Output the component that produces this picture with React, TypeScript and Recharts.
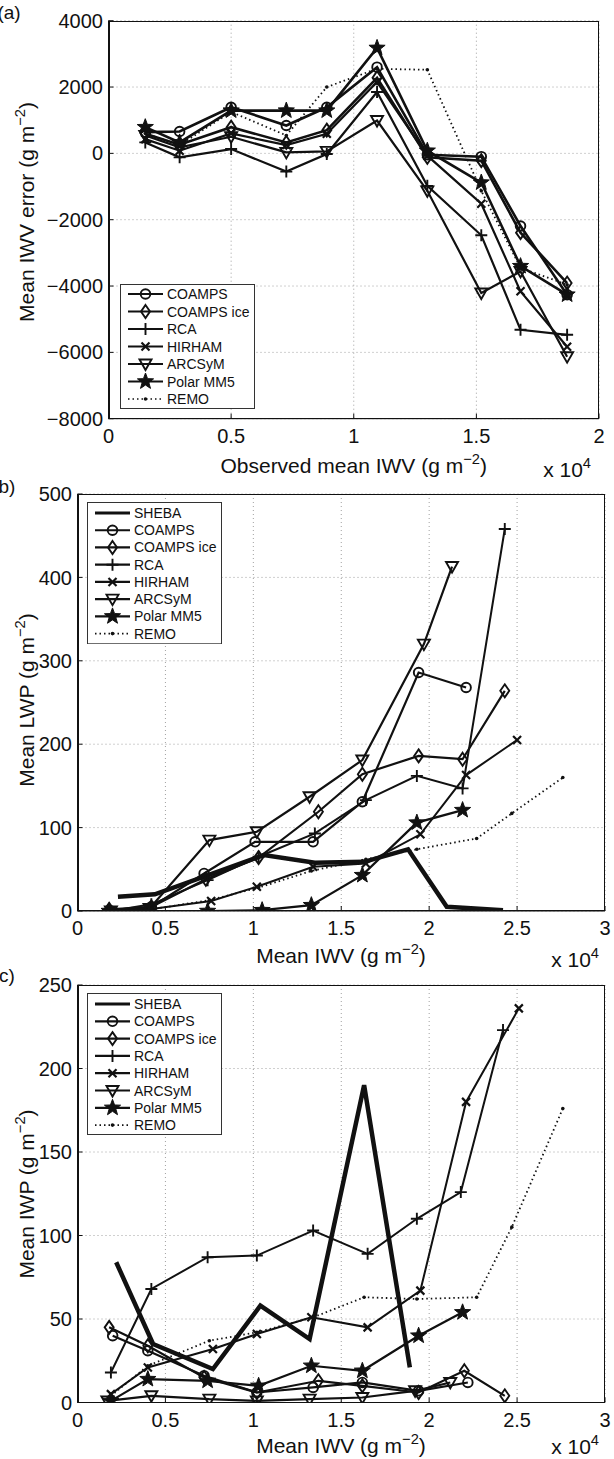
import React from "react";
import { LineChart, Line, XAxis, YAxis, CartesianGrid } from "recharts";

const FONT = '"Liberation Sans", Arial, Helvetica, sans-serif';
const INK = "#111";

// ---- panel (a): IWV error vs observed mean IWV (shared bins) ----
const iwvObsA = [1500, 2900, 5000, 7250, 8900, 10950, 13000, 15200, 16800, 18700];
const coampsA = [640, 660, 1390, 840, 1390, 2600, -40, -100, -2190, -4260];
const coampsIceA = [590, 260, 790, 330, 700, 2280, -120, -220, -2390, -3910];
const rcaA = [330, -120, 130, -550, -20, 1850, -980, -2470, -5320, -5470];
const hirhamA = [430, 80, 600, 250, 590, 2150, -70, -1520, -4160, -5830];
const arcsymA = [540, 180, 500, 30, 60, 990, -1130, -4210, -3560, -6130];
const polarA = [790, 330, 1290, 1290, 1290, 3180, 80, -880, -3400, -4260];
const remoA = [600, 250, 1250, 540, 2000, 2550, 2520, -1130, -3450, -3960];

// ---- panel (b): mean LWP vs mean IWV ----
const shebaBx = [2300, 4400, 10600, 13500, 16300, 18800, 21000, 24200];
const shebaBy = [17, 20, 67, 58, 59, 74, 5, 1];
const coampsBx = [1900, 4200, 7200, 10100, 13400, 16200, 19400, 22100];
const coampsBy = [0, 5, 45, 83, 83, 131, 286, 268];
const coampsIceBx = [1800, 4200, 7300, 10300, 13700, 16200, 19400, 21900, 24300];
const coampsIceBy = [2, 5, 38, 64, 119, 164, 186, 182, 264];
const rcaBx = [1900, 4200, 7400, 10300, 13500, 16400, 19300, 21900, 24300];
const rcaBy = [0, 8, 37, 65, 93, 133, 162, 147, 458];
const hirhamBx = [1900, 4100, 7600, 10200, 13400, 16400, 19500, 22100, 25000];
const hirhamBy = [0, 2, 12, 29, 53, 57, 92, 163, 205];
const arcsymBx = [1900, 4100, 7500, 10200, 13200, 16200, 19700, 21300];
const arcsymBy = [0, 3, 85, 95, 137, 181, 320, 413];
const polarBx = [1800, 4100, 7400, 10500, 13300, 16200, 19300, 21900];
const polarBy = [0, 0, 0, 1, 7, 43, 106, 121];
const remoBx = [1900, 4200, 7500, 10300, 13300, 16400, 19300, 22700, 24700, 27600];
const remoBy = [0, 2, 13, 28, 48, 62, 74, 87, 117, 160];

// ---- panel (c): mean IWP vs mean IWV ----
const shebaCx = [2200, 4300, 7700, 10400, 13200, 16300, 18900];
const shebaCy = [84, 35, 20, 58, 38, 190, 21];
const coampsCx = [2000, 4000, 7200, 10200, 13400, 16200, 19400, 22200];
const coampsCy = [40, 31, 16, 6, 9, 12, 7, 12];
const coampsIceCx = [1800, 4000, 7200, 10200, 13700, 16200, 19400, 22000, 24300];
const coampsIceCy = [45, 34, 15, 6, 13, 10, 6, 19, 4];
const rcaCx = [1900, 4200, 7400, 10200, 13400, 16500, 19300, 21800, 24200];
const rcaCy = [18, 68, 87, 88, 103, 89, 110, 126, 223];
const hirhamCx = [1900, 4000, 7700, 10200, 13300, 16500, 19500, 22100, 25100];
const hirhamCy = [5, 21, 32, 41, 51, 45, 67, 180, 236];
const arcsymCx = [1700, 4200, 7500, 10200, 13200, 16200, 19200, 21200];
const arcsymCy = [1, 4, 2, 1, 2, 3, 7, 12];
const polarCx = [1900, 4000, 7400, 10300, 13300, 16200, 19400, 21900];
const polarCy = [1, 14, 13, 10, 22, 19, 40, 54];
const remoCx = [1900, 4000, 7500, 10200, 13400, 16300, 19300, 22700, 24700, 27600];
const remoCy = [4, 22, 37, 42, 51, 63, 62, 63, 105, 176];

const ticksA_x = [0, 5000, 10000, 15000, 20000];
const ticksA_y = [-8000, -6000, -4000, -2000, 0, 2000, 4000];
const ticksBC_x = [0, 5000, 10000, 15000, 20000, 25000, 30000];
const ticksB_y = [0, 100, 200, 300, 400, 500];
const ticksC_y = [0, 50, 100, 150, 200, 250];

type Shape = "none" | "circle" | "diamond" | "plus" | "cross" | "tri" | "star" | "dot";
type Series = { name: string; pts: { x: number; y: number }[]; shape: Shape; width: number; dash?: string };

const toPts = (xs: number[], ys: number[]) => xs.map((x, i) => ({ x, y: ys[i] }));

function starPath(cx: number, cy: number, R: number, r: number) {
  let d = "";
  for (let i = 0; i < 10; i++) {
    const rad = i % 2 === 0 ? R : r;
    const a = -Math.PI / 2 + (i * Math.PI) / 5;
    d += (i ? "L" : "M") + (cx + rad * Math.cos(a)).toFixed(2) + "," + (cy + rad * Math.sin(a)).toFixed(2);
  }
  return d + "Z";
}

function Marker({ shape, cx, cy }: { shape: Shape; cx: number; cy: number }) {
  const sw = 1.9;
  switch (shape) {
    case "circle":
      return <circle cx={cx} cy={cy} r={4.8} fill="none" stroke={INK} strokeWidth={sw} />;
    case "diamond":
      return <path d={`M${cx},${cy - 6.5}L${cx + 4.5},${cy}L${cx},${cy + 6.5}L${cx - 4.5},${cy}Z`} fill="none" stroke={INK} strokeWidth={sw} />;
    case "plus":
      return <path d={`M${cx - 6},${cy}H${cx + 6}M${cx},${cy - 6}V${cy + 6}`} stroke={INK} strokeWidth={sw} />;
    case "cross":
      return <path d={`M${cx - 4},${cy - 4}L${cx + 4},${cy + 4}M${cx - 4},${cy + 4}L${cx + 4},${cy - 4}`} stroke={INK} strokeWidth={2.2} />;
    case "tri":
      return <path d={`M${cx - 6},${cy - 4.5}L${cx + 6},${cy - 4.5}L${cx},${cy + 6}Z`} fill="none" stroke={INK} strokeWidth={sw} />;
    case "star":
      return <path d={starPath(cx, cy, 8.5, 3.5)} fill={INK} stroke={INK} strokeWidth={1} />;
    case "dot":
      return <circle cx={cx} cy={cy} r={1.8} fill={INK} />;
    default:
      return <g />;
  }
}

const fmtX = (v: number) => String(v / 10000);
const fmtY = (v: number) => (v < 0 ? "\u2212" + Math.abs(v) : String(v));

function LegendBox({ left, top, width, height, first, gap, items }: {
  left: number; top: number; width: number; height: number; first: number; gap: number; items: Series[];
}) {
  return (
    <svg style={{ position: "absolute", left, top }} width={width} height={height}>
      <rect x={0.5} y={0.5} width={width - 1} height={height - 1} fill="#fff" stroke="#333" strokeWidth={1} />
      {items.map((s, i) => {
        const y = first + i * gap;
        return (
          <g key={s.name}>
            <line x1={8} x2={43} y1={y} y2={y} stroke={INK} strokeWidth={s.name === "SHEBA" ? 3 : s.dash ? 1.6 : 2.2} strokeDasharray={s.dash} />
            <Marker shape={s.shape} cx={25.5} cy={y} />
            <text x={47} y={y} dominantBaseline="central" fontSize={14} fontFamily={FONT} fill={INK}>{s.name}</text>
          </g>
        );
      })}
    </svg>
  );
}

function Panel({ top, height, margin, yWidth, xDomain, xTicks, yDomain, yTicks, series }: {
  top: number; height: number; margin: { top: number; right: number; bottom: number; left: number };
  yWidth: number; xDomain: [number, number]; xTicks: number[]; yDomain: [number, number]; yTicks: number[]; series: Series[];
}) {
  const plotL = margin.left + yWidth;
  const plotT = margin.top;
  const plotW = 614 - plotL - margin.right;
  const plotH = height - margin.top - margin.bottom - 30;
  return (
    <div style={{ position: "absolute", left: 0, top, width: 614, height }}>
      <LineChart width={614} height={height} margin={margin}>
        <CartesianGrid stroke="#a0a0a0" strokeDasharray="1 3" />
        <XAxis type="number" dataKey="x" domain={xDomain} ticks={xTicks} interval={0} allowDataOverflow
          tickFormatter={fmtX} height={30} axisLine={{ stroke: INK }} tickLine={{ stroke: INK }}
          tickSize={-5} tickMargin={15} tick={{ fontSize: 20, fill: INK, fontFamily: FONT }} />
        <YAxis type="number" domain={yDomain} ticks={yTicks} interval={0} allowDataOverflow width={yWidth}
          tickFormatter={fmtY} axisLine={{ stroke: INK }} tickLine={{ stroke: INK }}
          tickSize={-5} tickMargin={10.5} tick={{ fontSize: 20, fill: INK, fontFamily: FONT }} />
        {series.map((s) => (
          <Line key={s.name} data={s.pts} dataKey="y" type="linear" stroke={INK} strokeWidth={s.width}
            strokeDasharray={s.dash} isAnimationActive={false} activeDot={false}
            dot={(p: any) => <Marker key={`${s.name}-${p.index}`} shape={s.shape} cx={p.cx} cy={p.cy} />} />
        ))}
      </LineChart>
      <div style={{ position: "absolute", left: plotL, top: plotT, width: plotW, height: plotH,
        border: `1px solid ${INK}`, boxSizing: "border-box", pointerEvents: "none" }} />
    </div>
  );
}

function Txt({ x, y, size = 21, rotate = false, anchor = "center", children }: {
  x: number; y: number; size?: number; rotate?: boolean; anchor?: "center" | "right" | "left"; children: React.ReactNode;
}) {
  const tx = anchor === "center" ? "-50%" : anchor === "right" ? "-100%" : "0";
  return (
    <div style={{ position: "absolute", left: x, top: y, fontSize: size, lineHeight: 1, whiteSpace: "nowrap",
      fontFamily: FONT, color: INK, transform: `translate(${tx}, -50%)${rotate ? " rotate(-90deg)" : ""}`,
      transformOrigin: rotate ? "50% 50%" : undefined }}>
      {children}
    </div>
  );
}

const Sup = ({ children }: { children: React.ReactNode }) => (
  <sup style={{ fontSize: "0.7em", verticalAlign: "0.55em", lineHeight: 0 }}>{children}</sup>
);

export default function App() {
  const seriesA: Series[] = [
    { name: "COAMPS", pts: toPts(iwvObsA, coampsA), shape: "circle", width: 2.6 },
    { name: "COAMPS ice", pts: toPts(iwvObsA, coampsIceA), shape: "diamond", width: 2.6 },
    { name: "RCA", pts: toPts(iwvObsA, rcaA), shape: "plus", width: 2.2 },
    { name: "HIRHAM", pts: toPts(iwvObsA, hirhamA), shape: "cross", width: 2.2 },
    { name: "ARCSyM", pts: toPts(iwvObsA, arcsymA), shape: "tri", width: 2.2 },
    { name: "Polar MM5", pts: toPts(iwvObsA, polarA), shape: "star", width: 2.6 },
    { name: "REMO", pts: toPts(iwvObsA, remoA), shape: "dot", width: 1.8, dash: "1.5 3" },
  ];
  const seriesB: Series[] = [
    { name: "SHEBA", pts: toPts(shebaBx, shebaBy), shape: "none", width: 4.5 },
    { name: "COAMPS", pts: toPts(coampsBx, coampsBy), shape: "circle", width: 2.2 },
    { name: "COAMPS ice", pts: toPts(coampsIceBx, coampsIceBy), shape: "diamond", width: 2.2 },
    { name: "RCA", pts: toPts(rcaBx, rcaBy), shape: "plus", width: 2 },
    { name: "HIRHAM", pts: toPts(hirhamBx, hirhamBy), shape: "cross", width: 2 },
    { name: "ARCSyM", pts: toPts(arcsymBx, arcsymBy), shape: "tri", width: 2.2 },
    { name: "Polar MM5", pts: toPts(polarBx, polarBy), shape: "star", width: 2.2 },
    { name: "REMO", pts: toPts(remoBx, remoBy), shape: "dot", width: 1.8, dash: "1.5 3" },
  ];
  const seriesC: Series[] = [
    { name: "SHEBA", pts: toPts(shebaCx, shebaCy), shape: "none", width: 4.5 },
    { name: "COAMPS", pts: toPts(coampsCx, coampsCy), shape: "circle", width: 2.2 },
    { name: "COAMPS ice", pts: toPts(coampsIceCx, coampsIceCy), shape: "diamond", width: 2.2 },
    { name: "RCA", pts: toPts(rcaCx, rcaCy), shape: "plus", width: 2 },
    { name: "HIRHAM", pts: toPts(hirhamCx, hirhamCy), shape: "cross", width: 2 },
    { name: "ARCSyM", pts: toPts(arcsymCx, arcsymCy), shape: "tri", width: 2.2 },
    { name: "Polar MM5", pts: toPts(polarCx, polarCy), shape: "star", width: 2.2 },
    { name: "REMO", pts: toPts(remoCx, remoCy), shape: "dot", width: 1.8, dash: "1.5 3" },
  ];

  return (
    <div style={{ position: "relative", width: 614, height: 1459, background: "#fff", fontFamily: FONT }}>
      <style>{`body{margin:0;background:#fff}`}</style>

      {/* (a) */}
      <Panel top={0} height={480} margin={{ top: 20.7, right: 15, bottom: 31.3, left: 0 }} yWidth={108.5}
        xDomain={[0, 20000]} xTicks={ticksA_x} yDomain={[-8000, 4000]} yTicks={ticksA_y} series={seriesA} />
      <LegendBox left={120} top={284} width={135} height={125} first={10} gap={17.5} items={seriesA} />
      <Txt x={9} y={12} size={19}>(a)</Txt>
      <Txt x={26} y={212} rotate>Mean IWV error (g m<Sup>−2</Sup>)</Txt>
      <Txt x={353.7} y={465}>Observed mean IWV (g m<Sup>−2</Sup>)</Txt>
      <Txt x={591} y={469} anchor="right">x 10<Sup>4</Sup></Txt>

      {/* (b) */}
      <Panel top={480} height={480} margin={{ top: 14, right: 9, bottom: 19, left: 0 }} yWidth={77.5}
        xDomain={[0, 30000]} xTicks={ticksBC_x} yDomain={[0, 500]} yTicks={ticksB_y} series={seriesB} />
      <LegendBox left={87} top={501.7} width={135} height={142.3} first={11} gap={17.23} items={seriesB} />
      <Txt x={7} y={486} size={19}>b)</Txt>
      <Txt x={26} y={700} rotate>Mean LWP (g m<Sup>−2</Sup>)</Txt>
      <Txt x={341} y={955}>Mean IWV (g m<Sup>−2</Sup>)</Txt>
      <Txt x={599} y={959} anchor="right">x 10<Sup>4</Sup></Txt>

      {/* (c) */}
      <Panel top={960} height={499} margin={{ top: 25, right: 9, bottom: 26.5, left: 0 }} yWidth={77.5}
        xDomain={[0, 30000]} xTicks={ticksBC_x} yDomain={[0, 250]} yTicks={ticksC_y} series={seriesC} />
      <LegendBox left={87} top={993} width={135} height={142} first={11} gap={17.3} items={seriesC} />
      <Txt x={7} y={975} size={19}>c)</Txt>
      <Txt x={26} y={1193.7} rotate>Mean IWP (g m<Sup>−2</Sup>)</Txt>
      <Txt x={341} y={1445}>Mean IWV (g m<Sup>−2</Sup>)</Txt>
      <Txt x={599} y={1446} anchor="right">x 10<Sup>4</Sup></Txt>
    </div>
  );
}
